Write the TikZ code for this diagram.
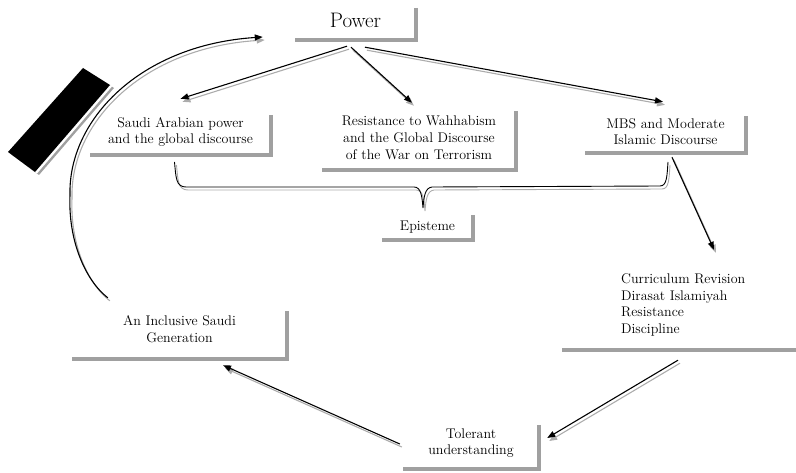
\documentclass[tikz,border=0pt]{standalone}
\usepackage{tikz}
\usetikzlibrary{arrows.meta,positioning}
\definecolor{shadowgray}{RGB}{160,160,160}
\definecolor{linkgray}{RGB}{172,172,172}

\begin{document}
\begin{tikzpicture}[x=1pt,y=-1pt,
    box/.style={align=center,inner sep=0pt,font=\fontsize{14}{16.7}\selectfont},
    boxshadow/.style={draw=shadowgray,line width=4pt},
    link/.style={line width=1.1pt,-{Triangle[length=8pt,width=6pt]}},
    brace/.style={line width=0.9pt}
  ]
  \useasboundingbox (0,0) rectangle (796,473);

  % boxes
  \node[box,font=\fontsize{21}{25}\selectfont,minimum width=121pt,minimum height=32pt,
        text height=14.5pt,text depth=8pt] (power) at (355.5,24) {Power};
  \node[box,minimum width=181pt,minimum height=40pt,text depth=8.7pt] (saudi) at (180.5,135)
    {Saudi Arabian power\\and the global discourse};
  \node[box,minimum width=194pt,minimum height=59pt,text depth=6pt] (resist) at (419,140.5)
    {Resistance to Wahhabism\\and the Global Discourse\\of the War on Terrorism};
  \node[box,minimum width=161pt,minimum height=37pt,text depth=6pt] (mbs) at (665.5,134.5)
    {MBS and Moderate\\Islamic Discourse};
  \node[box,minimum width=91pt,minimum height=25pt] (epi) at (427.5,227.5) {Episteme};
  \node[box,align=left,anchor=west,minimum height=90pt] (curr) at (621,305)
    {Curriculum Revision\\Dirasat Islamiyah\\Resistance\\Discipline};
  \node[box,minimum width=215pt,minimum height=48pt,text depth=12pt] (incl) at (179.5,335)
    {An Inclusive Saudi\\Generation};
  \node[box,minimum width=136pt,minimum height=44pt,text depth=10.7pt] (toler) at (471,447)
    {Tolerant\\understanding};

  % shadows
  \foreach \n in {power,saudi,resist,mbs,epi,incl,toler}
    \draw[boxshadow] (\n.north east) -- (\n.south east) -- (\n.south west);
  \draw[boxshadow] ([xshift=-59pt]curr.south west) -- +(240,0);

  % the black tab
  \fill[shadowgray] (87,71) -- (114,88) -- (39,175) -- (12,155) -- cycle;
  \fill[white] (85,69.5) -- (112,86.5) -- (37,173.5) -- (10,153.5) -- cycle;
  \fill[black] (83,68) -- (110,85) -- (35,172) -- (8,152) -- cycle;

  % connector ends
  \coordinate (s1) at ([xshift=-8.5pt,yshift=-6pt]power.south);
  \coordinate (e1) at ([yshift=16pt]saudi.north);
  \coordinate (s2) at ([xshift=-4.5pt,yshift=-7pt]power.south);
  \coordinate (e2) at ([xshift=-7pt,yshift=8pt]resist.north);
  \coordinate (s3) at ([xshift=9.5pt,yshift=-7pt]power.south);
  \coordinate (e3) at ([xshift=-2.5pt,yshift=14pt]mbs.north);
  \coordinate (s4) at ([xshift=6.5pt,yshift=-4pt]mbs.south);
  \coordinate (e4) at ([xshift=93pt,yshift=10pt]curr.north west);
  \coordinate (s5) at ([xshift=57pt,yshift=-10pt]curr.south west);
  \coordinate (e5) at ([xshift=8pt,yshift=9pt]toler.east);
  \coordinate (s6) at ([xshift=-3pt,yshift=3pt]toler.west);
  \coordinate (e6) at ([xshift=43.5pt,yshift=-6pt]incl.south);
  \coordinate (s7) at ([xshift=36pt,yshift=13pt]incl.north west);
  \coordinate (e7) at ([xshift=-32pt,yshift=-13pt]power.west);

  % connectors, grey copy first
  \foreach \col/\dx/\dy in {linkgray/2/-3,black/0/0}{
    \begin{scope}[transform canvas={xshift=\dx pt,yshift=\dy pt},color=\col]
      \foreach \i in {1,...,6}
        \draw[link] (s\i) -- (e\i);
      \draw[link] (s7) .. controls (85,280) and (68,240) .. (70,195)
        .. controls (68,120) and (140,45) .. (e7);
      \draw[brace] (174.5,162) .. controls (176,178) and (176,187) .. (186,187)
        -- (414,187) .. controls (421,187) and (422,196) .. (423,208)
        .. controls (424,196) and (425,188) .. (432,187)
        -- (660,186) .. controls (667,186) and (667,176) .. (668,162);
    \end{scope}
  }
\end{tikzpicture}
\end{document}
